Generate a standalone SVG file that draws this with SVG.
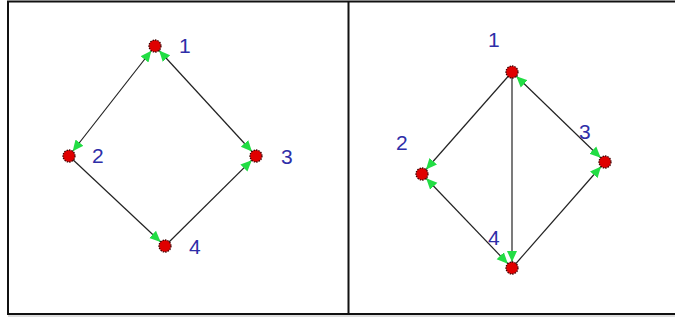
<svg xmlns="http://www.w3.org/2000/svg" width="675" height="320" viewBox="0 0 675 320">
<style>
.frame{fill:none;stroke:#111;stroke-width:2}
.edge{stroke:#222;stroke-width:1.2;fill:none}
.node{fill:#e00000;stroke:#400000;stroke-width:1.3;stroke-dasharray:1.5 1}
.lbl{font-family:"Liberation Sans",Arial,sans-serif;font-size:21px;fill:#2e2ea8}
</style>
<defs>
<marker id="ah" markerUnits="userSpaceOnUse" markerWidth="22" markerHeight="12" refX="17" refY="5" orient="auto-start-reverse" viewBox="0 0 22 10">
<path d="M0,0 L11,5 L0,10 z" fill="#22dd44"/>
</marker>
</defs>
<rect width="675" height="320" fill="#fff"/>
<g id="frame">
<path class="frame" d="M680,1.5 H8 V314 H680 M348.5,1.5 V314"/>
<line x1="8" y1="316" x2="680" y2="316" stroke="#bbb" stroke-width="1"/>
</g>
<g id="connectors">
<line class="edge" x1="69" y1="156" x2="155" y2="46" marker-start="url(#ah)" marker-end="url(#ah)"/>
<line class="edge" x1="155" y1="46" x2="256" y2="156" marker-start="url(#ah)" marker-end="url(#ah)"/>
<line class="edge" x1="69" y1="156" x2="165" y2="246" marker-end="url(#ah)"/>
<line class="edge" x1="165" y1="246" x2="256" y2="156" marker-end="url(#ah)"/>
<line class="edge" x1="512" y1="72" x2="422" y2="174" marker-end="url(#ah)"/>
<line class="edge" x1="512" y1="72" x2="605" y2="162" marker-start="url(#ah)" marker-end="url(#ah)"/>
<line class="edge" x1="512" y1="72" x2="512" y2="268" marker-end="url(#ah)"/>
<line class="edge" x1="422" y1="174" x2="512" y2="268" marker-start="url(#ah)" marker-end="url(#ah)"/>
<line class="edge" x1="512" y1="268" x2="605" y2="162" marker-end="url(#ah)"/>
</g>
<g id="L1"><circle class="node" cx="155" cy="46" r="6"/><text class="lbl" x="179" y="53">1</text></g>
<g id="L2"><circle class="node" cx="69" cy="156" r="6"/><text class="lbl" x="92" y="163">2</text></g>
<g id="L3"><circle class="node" cx="256" cy="156" r="6"/><text class="lbl" x="281" y="164">3</text></g>
<g id="L4"><circle class="node" cx="165" cy="246" r="6"/><text class="lbl" x="189" y="254">4</text></g>
<g id="R1"><circle class="node" cx="512" cy="72" r="6"/><text class="lbl" x="488" y="47">1</text></g>
<g id="R2"><circle class="node" cx="422" cy="174" r="6"/><text class="lbl" x="396" y="150">2</text></g>
<g id="R3"><circle class="node" cx="605" cy="162" r="6"/><text class="lbl" x="579" y="139">3</text></g>
<g id="R4"><circle class="node" cx="512" cy="268" r="6"/><text class="lbl" x="488" y="245">4</text></g>
</svg>
